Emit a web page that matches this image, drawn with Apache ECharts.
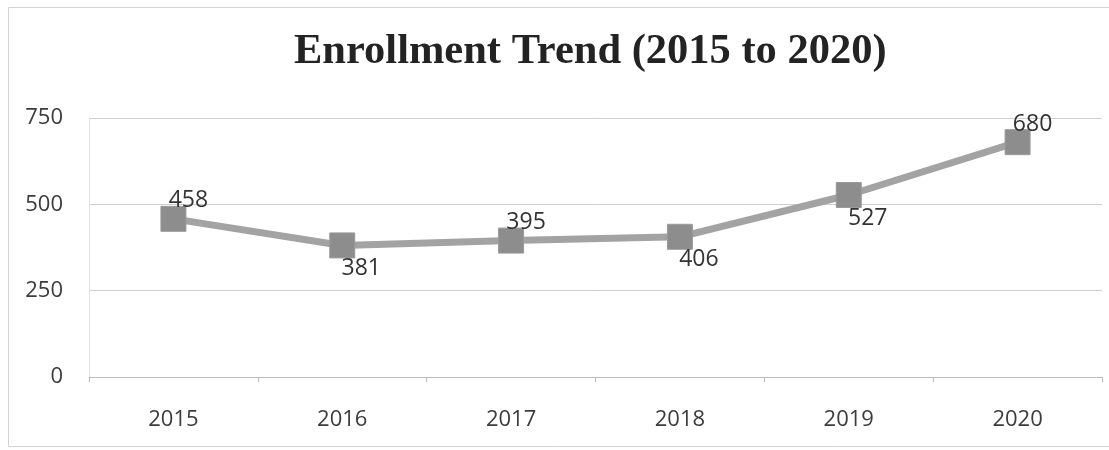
<!DOCTYPE html>
<html>
<head>
<meta charset="utf-8">
<script src="https://cdn.jsdelivr.net/npm/echarts@6/dist/echarts.min.js"></script>
<style>
  html, body { margin: 0; padding: 0; background: #ffffff; }
  #chart { width: 1109px; height: 450px; }
</style>
</head>
<body>
<div id="chart"></div>
<script>
// Enrollment per year
const years = ['2015', '2016', '2017', '2018', '2019', '2020'];
const enrollment = [458, 381, 395, 406, 527, 680];
const yTicks = [0, 250, 500, 750];

// Which side of the point each value label sits on
const labelSide = ['above', 'below', 'above', 'below', 'below', 'above'];

const chart = echarts.init(document.getElementById('chart'), null, { renderer: 'canvas' });

const seriesData = enrollment.map((v, i) => ({
  value: v,
  label: {
    offset: labelSide[i] === 'above' ? [15, -18] : [19, 23]
  }
}));

chart.setOption({
  animation: false,
  backgroundColor: '#ffffff',
  title: {
    text: 'Enrollment Trend (2015 to 2020)',
    left: 289,
    top: 26,
    textStyle: {
      fontFamily: '"Liberation Serif", "DejaVu Serif", serif',
      fontWeight: 'bold',
      fontSize: 42.5,
      color: '#232323'
    }
  },
  graphic: [{
    type: 'rect',
    shape: { x: 8.5, y: 7.5, width: 1110, height: 439 },
    style: { fill: 'none', stroke: '#d4d4d4', lineWidth: 1 },
    silent: true,
    z: -1
  }],
  grid: { left: 89, right: 7, top: 118, bottom: 73 },
  xAxis: {
    type: 'category',
    data: years,
    boundaryGap: true,
    axisLine: { show: true, lineStyle: { color: '#bdbdbd', width: 1 } },
    axisTick: { show: true, alignWithLabel: false, length: 5, lineStyle: { color: '#bdbdbd' } },
    axisLabel: {
      margin: 32,
      fontFamily: '"Open Sans", "Noto Sans", sans-serif',
      fontSize: 22,
      color: '#3c3c3c'
    },
    splitLine: { show: false }
  },
  yAxis: {
    type: 'value',
    min: yTicks[0],
    max: yTicks[yTicks.length - 1],
    interval: yTicks[1] - yTicks[0],
    axisLine: { show: true, lineStyle: { color: '#e2e2e2', width: 1 } },
    axisTick: { show: false },
    axisLabel: {
      margin: 26,
      fontFamily: '"Open Sans", "Noto Sans", sans-serif',
      fontSize: 22,
      color: '#3c3c3c'
    },
    splitLine: { show: true, lineStyle: { color: '#cfcfcf', width: 1 } }
  },
  series: [{
    type: 'line',
    data: seriesData,
    symbol: 'rect',
    symbolSize: 25,
    lineStyle: { color: '#a3a3a3', width: 7 },
    itemStyle: { color: '#8d8d8d', borderColor: '#9a9a9a', borderWidth: 1 },
    label: {
      show: true,
      position: 'inside',
      fontFamily: '"Open Sans", "Noto Sans", sans-serif',
      fontSize: 23,
      color: '#333333'
    },
    z: 3
  }]
});
</script>
</body>
</html>
